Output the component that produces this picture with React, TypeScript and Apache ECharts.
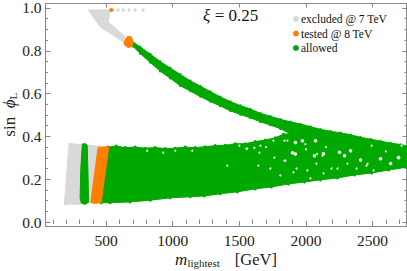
import React, { useEffect, useRef } from "react";
import * as echarts from "echarts";

type P = number[];

const xMajor = [500, 1000, 1500, 2000, 2500];
const xMinor = [100, 200, 300, 400, 600, 700, 800, 900, 1100, 1200, 1300, 1400, 1600, 1700, 1800, 1900, 2100, 2200, 2300, 2400, 2600, 2700];
const yMajor = [0, 0.2, 0.4, 0.6, 0.8, 1];
const yMinor = [0.05, 0.1, 0.15, 0.25, 0.3, 0.35, 0.45, 0.5, 0.55, 0.65, 0.7, 0.75, 0.85, 0.9, 0.95];

const greyLeft: P[] = [[222, 0.368], [270, 0.364], [335, 0.362], [312, 0.085], [270, 0.082], [225, 0.084], [186, 0.08]];
const greyMid: P[] = [[357, 0.36], [445, 0.354], [400, 0.092], [365, 0.089]];
const greyWedge: P[] = [[365, 0.991], [530, 0.991], [515, 0.935], [643, 0.866], [628, 0.843], [455, 0.912]];
const greyDots: P[] = [[553, 0.991], [590, 0.991], [628, 0.991], [673, 0.991], [718, 0.991], [778, 0.991]];
const orangeBand: P[] = [[440, 0.35], [520, 0.352], [462, 0.09], [410, 0.087], [385, 0.092]];
const orangeBlob: P[] = [[635, 0.843], [658, 0.866], [688, 0.866], [703, 0.843], [695, 0.82], [665, 0.815], [635, 0.829]];
const orangeDots: P[] = [[538, 0.991]];
const greenStripe: P[] = [[322, 0.365], [345, 0.366], [358, 0.358], [365, 0.2], [368, 0.092], [345, 0.083], [315, 0.087], [305, 0.11], [310, 0.25]];
const greenMain: P[] = [
  [515, 0.35], [575, 0.355], [643, 0.348], [718, 0.35], [793, 0.345], [868, 0.348], [944, 0.343], [1019, 0.345],
  [1094, 0.35], [1169, 0.348], [1244, 0.352], [1320, 0.357], [1395, 0.359], [1470, 0.366], [1545, 0.366],
  [1620, 0.376], [1696, 0.383], [1771, 0.394], [1831, 0.41], [2000, 0.42], [2300, 0.38], [2764, 0.33],
  [2764, 0.257], [2621, 0.243], [2493, 0.229], [2365, 0.22], [2237, 0.206], [2109, 0.197], [1989, 0.187],
  [1869, 0.178], [1741, 0.164], [1620, 0.155], [1485, 0.141], [1357, 0.132], [1237, 0.122], [1132, 0.118],
  [981, 0.113], [831, 0.102], [680, 0.094], [530, 0.09], [462, 0.09],
];
const greenThin: P[] = [
  [680, 0.852], [756, 0.818], [831, 0.785], [906, 0.75], [981, 0.72], [1056, 0.69], [1132, 0.66], [1207, 0.635],
  [1282, 0.61], [1357, 0.585], [1432, 0.563], [1508, 0.544], [1583, 0.528], [1658, 0.508], [1733, 0.494],
  [1808, 0.48], [1884, 0.468], [1959, 0.458], [2034, 0.446], [2109, 0.433], [2184, 0.424], [2260, 0.417],
  [2335, 0.408], [2410, 0.396], [2485, 0.387], [2560, 0.378], [2636, 0.369], [2711, 0.362], [2764, 0.355],
  [2764, 0.3], [2300, 0.35], [2000, 0.38], [1884, 0.412], [1808, 0.436], [1733, 0.453], [1658, 0.468], [1583, 0.487],
  [1508, 0.502], [1432, 0.52], [1357, 0.542], [1282, 0.563], [1207, 0.586], [1132, 0.612], [1056, 0.637],
  [981, 0.672], [906, 0.705], [831, 0.746], [756, 0.787], [703, 0.82],
];
const holesLarge: P[] = [
  [1899, 0.324], [2252, 0.326], [2335, 0.333], [2410, 0.29], [2560, 0.296], [2064, 0.31], [1974, 0.38], [2290, 0.31],
  [1921, 0.318], [2132, 0.319], [2636, 0.273], [2696, 0.301], [1921, 0.372], [2072, 0.38],
];
const holesSmall: P[] = [
  [808, 0.333], [929, 0.324], [1019, 0.333], [1147, 0.333], [1410, 0.264], [1500, 0.357], [1553, 0.343], [1560, 0.343],
  [1613, 0.347], [1643, 0.264], [1651, 0.324], [1658, 0.357], [1733, 0.25], [1756, 0.38], [1763, 0.301], [1808, 0.218],
  [1839, 0.38], [1839, 0.287], [1846, 0.287], [1861, 0.38], [1906, 0.232], [1996, 0.364], [2011, 0.241], [2034, 0.204],
  [2079, 0.273], [2084, 0.318], [2124, 0.31], [2132, 0.227], [2192, 0.25], [2237, 0.25], [2312, 0.273], [2380, 0.25],
  [2455, 0.264], [2463, 0.273], [2493, 0.357], [2508, 0.241], [2688, 0.301], [2718, 0.357], [2600, 0.33], [2150, 0.35],
  [1700, 0.35], [1930, 0.25], [2000, 0.34],
];

const GREY = "#d9d9d9";
const ORANGE = "#ff8000";
const GREEN = "#00a800";
const EDGE = "#888888";

const polygon = (name: string, color: string, pts: P[], z: number) => ({
  type: "custom",
  name,
  z,
  clip: true,
  itemStyle: { color },
  data: pts,
  renderItem: (params: any, api: any) => {
    if (params.dataIndex !== 0) return { type: "group", children: [] };
    return {
      type: "polygon",
      shape: { points: pts.map((p) => api.coord(p)) },
      style: { fill: color, stroke: color, lineWidth: 1 },
    };
  },
});

const dots = (name: string, color: string, pts: P[], size: number, z: number) => ({
  type: "scatter",
  name,
  z,
  symbolSize: size,
  itemStyle: { color, opacity: 1 },
  data: pts,
});

const base = {
  min: 45,
  max: 2755,
  type: "value" as const,
  splitLine: { show: false },
};
const baseY = { min: -0.0185, max: 1.021, type: "value" as const, splitLine: { show: false } };
const line = { show: true, onZero: false, lineStyle: { color: EDGE, width: 1 } };
const tick = (values: number[], length: number) => ({
  show: true,
  inside: true,
  length,
  customValues: values,
  lineStyle: { color: EDGE, width: 1 },
});
const rect = { left: 45.5, right: 0.5, top: 3.5, bottom: 45, outerBoundsMode: "none", containLabel: false };

export default function App() {
  const ref = useRef<HTMLDivElement>(null);
  useEffect(() => {
    const chart = echarts.init(ref.current!, undefined, { renderer: "svg" });
    chart.setOption({
      animation: false,
      backgroundColor: "#ffffff",
      textStyle: { fontFamily: "Liberation Serif" },
      title: {
        left: 198,
        top: 1,
        text: "{i|ξ} {n|= 0.25}",
        textStyle: {
          fontWeight: "normal",
          rich: {
            i: { fontFamily: "Liberation Serif", fontStyle: "italic", fontWeight: "normal", fontSize: 17, color: "#111" },
            n: { fontFamily: "Liberation Serif", fontWeight: "normal", fontSize: 17, color: "#111" },
          },
        },
      },
      legend: {
        left: 288,
        top: 8,
        orient: "vertical",
        itemWidth: 6,
        itemHeight: 6,
        itemGap: 2.5,
        icon: "circle",
        data: ["excluded @ 7 TeV", "tested @ 8 TeV", "allowed"],
        textStyle: { fontFamily: "Liberation Serif", fontSize: 11.5, color: "#111", padding: [0, 0, 0, -3] },
      },
      grid: [rect, rect],
      xAxis: [
        {
          ...base,
          gridIndex: 0,
          position: "bottom",
          axisLine: line,
          axisTick: tick(xMajor, 5),
          axisLabel: { customValues: xMajor, formatter: (v: number) => String(v), fontFamily: "Liberation Serif", fontSize: 15.5, color: "#222", margin: 6 },
          name: "{m|m}{s|lightest}     {g|[GeV]}",
          nameLocation: "middle",
          nameGap: 24,
          nameMoveOverlap: false,
          nameTextStyle: {
            rich: {
              m: { fontFamily: "Liberation Serif", fontStyle: "italic", fontSize: 17, color: "#222", lineHeight: 18 },
              s: { fontFamily: "Liberation Serif", fontSize: 11, color: "#222", verticalAlign: "bottom", lineHeight: 18 },
              g: { fontFamily: "Liberation Serif", fontSize: 16.5, color: "#222", lineHeight: 18 },
            },
          },
        },
        { ...base, gridIndex: 0, position: "top", axisLine: line, axisTick: tick(xMajor, 4), axisLabel: { show: false } },
        { ...base, gridIndex: 1, position: "bottom", axisLine: { show: false }, axisTick: tick(xMinor, 2.5), axisLabel: { show: false } },
        { ...base, gridIndex: 1, position: "top", axisLine: { show: false }, axisTick: tick(xMinor, 2), axisLabel: { show: false } },
      ],
      yAxis: [
        {
          ...baseY,
          gridIndex: 0,
          position: "left",
          axisLine: line,
          axisTick: tick(yMajor, 5),
          axisLabel: {
            customValues: yMajor,
            formatter: (v: number) => v.toFixed(1),
            fontFamily: "Liberation Serif",
            fontSize: 15.5,
            color: "#222",
            margin: 4,
          },
          name: "{t|sin  }{i|ϕ}{s|L}",
          nameLocation: "middle",
          nameGap: 27,
          nameMoveOverlap: false,
          nameTextStyle: {
            rich: {
              t: { fontFamily: "Liberation Serif", fontSize: 17, color: "#222", lineHeight: 18 },
              i: { fontFamily: "Liberation Serif", fontStyle: "italic", fontSize: 17, color: "#222", lineHeight: 18 },
              s: { fontFamily: "Liberation Serif", fontSize: 11, color: "#222", verticalAlign: "bottom", lineHeight: 18 },
            },
          },
        },
        { ...baseY, gridIndex: 0, position: "right", axisLine: line, axisTick: tick(yMajor, 4), axisLabel: { show: false } },
        { ...baseY, gridIndex: 1, position: "left", axisLine: { show: false }, axisTick: tick(yMinor, 2.5), axisLabel: { show: false } },
        { ...baseY, gridIndex: 1, position: "right", axisLine: { show: false }, axisTick: tick(yMinor, 2), axisLabel: { show: false } },
      ],
      series: [
        polygon("excluded @ 7 TeV", GREY, greyLeft, 2),
        polygon("excluded @ 7 TeV", GREY, greyMid, 2),
        polygon("excluded @ 7 TeV", GREY, greyWedge, 2),
        dots("excluded @ 7 TeV", GREY, greyDots, 3.5, 2),
        polygon("allowed", GREEN, greenStripe, 3),
        polygon("allowed", GREEN, greenMain, 3),
        polygon("allowed", GREEN, greenThin, 3),
        dots("allowed", GREEN, greenThin, 2.5, 3),
        dots("allowed", GREEN, greenMain, 3, 3),
        polygon("tested @ 8 TeV", ORANGE, orangeBand, 4),
        polygon("tested @ 8 TeV", ORANGE, orangeBlob, 4),
        dots("tested @ 8 TeV", ORANGE, orangeDots, 4, 4),
        dots("holes", "#ffffff", holesLarge, 3.5, 5),
        dots("holes", "#ffffff", holesSmall, 2, 5),
      ],
    });
    return () => chart.dispose();
  }, []);
  return <div ref={ref} style={{ position: "absolute", left: 0, top: 0, width: 407, height: 271 }} />;
}
